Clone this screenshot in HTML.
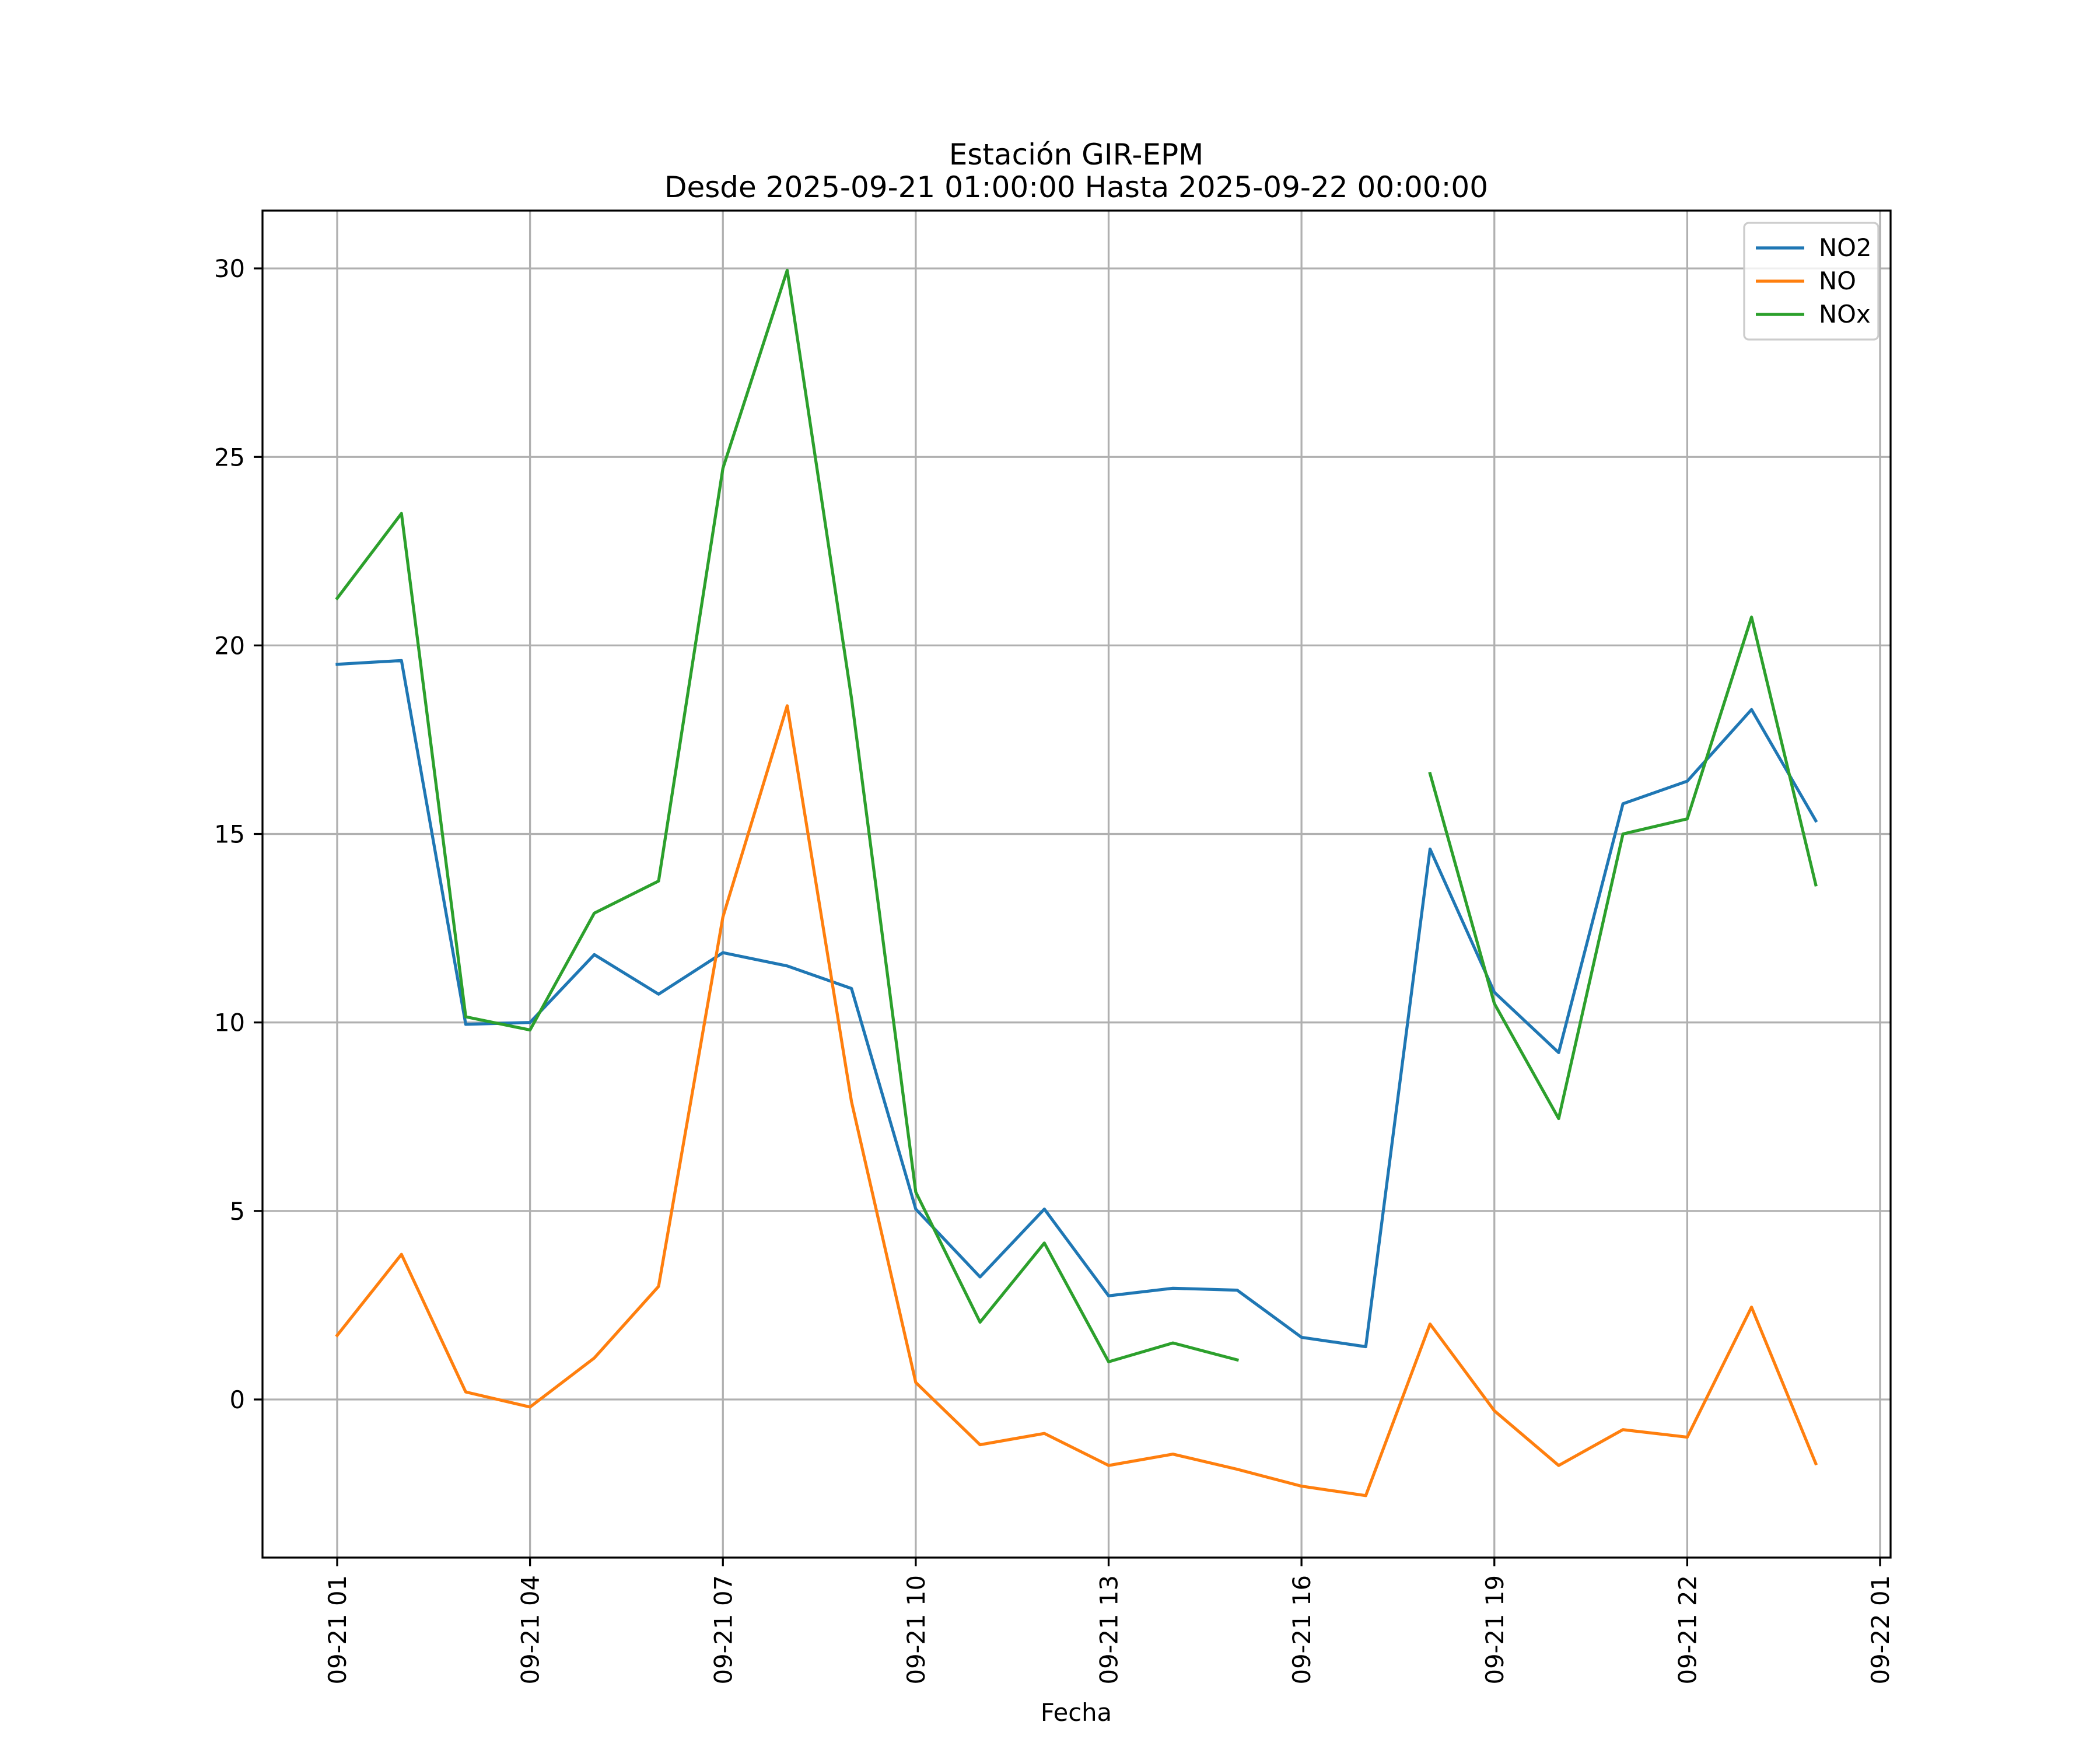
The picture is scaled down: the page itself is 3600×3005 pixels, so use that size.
<!DOCTYPE html>
<html><head><meta charset="utf-8"><style>
body{margin:0;background:#fff}
svg text{font-family:"DejaVu Sans","Liberation Sans",sans-serif;fill:#000}
</style></head><body>
<svg id="chart" width="3600" height="3000" viewBox="0 0 3600 3000" xmlns="http://www.w3.org/2000/svg">
<rect width="3600" height="3000" fill="#fff"/>
<text x="1845" y="282" font-size="50" text-anchor="middle">Estación GIR-EPM</text>
<text x="1845" y="338" font-size="50" text-anchor="middle">Desde 2025-09-21 01:00:00 Hasta 2025-09-22 00:00:00</text>
<g id="grid"></g>
<g id="series"></g>
<rect x="450" y="361" width="2791" height="2309" fill="none" stroke="#000" stroke-width="3.3"/>
<g id="ticks"></g>
<text x="1845" y="2950" font-size="41.7" text-anchor="middle">Fecha</text>
<g id="legend"></g>
</svg>
<script>
const hours=[1,2,3,4,5,6,7,8,9,10,11,12,13,14,15,16,17,18,19,20,21,22,23,24];
const no2=[19.5,19.6,9.95,10.0,11.8,10.75,11.85,11.5,10.9,5.05,3.25,5.05,2.75,2.95,2.9,1.65,1.4,14.6,10.8,9.2,15.8,16.4,18.3,15.35];
const no=[1.7,3.85,0.2,-0.2,1.1,3.0,12.8,18.4,7.9,0.45,-1.2,-0.9,-1.75,-1.45,-1.85,-2.3,-2.55,2.0,-0.3,-1.75,-0.8,-1.0,2.45,-1.7];
const nox=[21.25,23.5,10.15,9.8,12.9,13.75,24.7,29.95,18.6,5.5,2.05,4.15,1.0,1.5,1.05,null,null,16.6,10.5,7.45,15.0,15.4,20.75,13.65];
const xTickHours=[1,4,7,10,13,16,19,22,25];
const xTickLabels=["09-21 01","09-21 04","09-21 07","09-21 10","09-21 13","09-21 16","09-21 19","09-21 22","09-22 01"];
const yTicks=[0,5,10,15,20,25,30];
const seriesNames=["NO2","NO","NOx"];
const colors=["#1f77b4","#ff7f0e","#2ca02c"];
const NS="http://www.w3.org/2000/svg";
const X=h=>578+(h-1)*(3223-578)/24;
const Y=v=>2399-v*64.63;
function mk(tag,attrs,parent){const e=document.createElementNS(NS,tag);for(const k in attrs)e.setAttribute(k,attrs[k]);parent.appendChild(e);return e;}
const grid=document.getElementById('grid'),ticks=document.getElementById('ticks'),ser=document.getElementById('series'),leg=document.getElementById('legend');
xTickHours.forEach((h,i)=>{
 const g=mk('line',{x1:X(h),x2:X(h),y1:361,y2:2670,stroke:'#b0b0b0','stroke-width':3.3},grid);
 
 
 const t=mk('line',{x1:X(h),x2:X(h),y1:2670,y2:2685,stroke:'#000','stroke-width':3.3},ticks);
 
 
 const l=mk('text',{x:0,y:0,'font-size':41.7,'text-anchor':'end',transform:`translate(${X(h)+15},2700) rotate(-90)`},ticks);
 l.textContent=xTickLabels[i];
 
 
});
yTicks.forEach(v=>{
 const g=mk('line',{x1:450,x2:3241,y1:Y(v),y2:Y(v),stroke:'#b0b0b0','stroke-width':3.3},grid);
 
 
 const t=mk('line',{x1:435,x2:450,y1:Y(v),y2:Y(v),stroke:'#000','stroke-width':3.3},ticks);
 
 
 const l=mk('text',{x:420,y:Y(v)+15,'font-size':41.7,'text-anchor':'end'},ticks);
 l.textContent=v;
 
 
});
[no2,no,nox].forEach((arr,si)=>{
 let d='',pen=false;
 arr.forEach((v,i)=>{ if(v===null){pen=false;return;} d+=(pen?'L':'M')+X(hours[i]).toFixed(1)+' '+Y(v).toFixed(1)+' '; pen=true;});
 const p=mk('path',{d:d,fill:'none',stroke:colors[si],'stroke-width':5.2,'stroke-linejoin':'round','stroke-linecap':'square'},ser);
 
 
});
const box=mk('rect',{x:2990,y:382,width:230,height:200,rx:8,fill:'#fff','fill-opacity':0.8,stroke:'#ccc','stroke-width':3.3},leg);


seriesNames.forEach((n,i)=>{
 const y=425+i*57;
 const l=mk('line',{x1:3010,x2:3093,y1:y,y2:y,stroke:colors[i],'stroke-width':5.2},leg);
 
 
 const t=mk('text',{x:3118,y:y+14,'font-size':41.7},leg);
 t.textContent=n;
 
 
});
</script>
</body></html>
